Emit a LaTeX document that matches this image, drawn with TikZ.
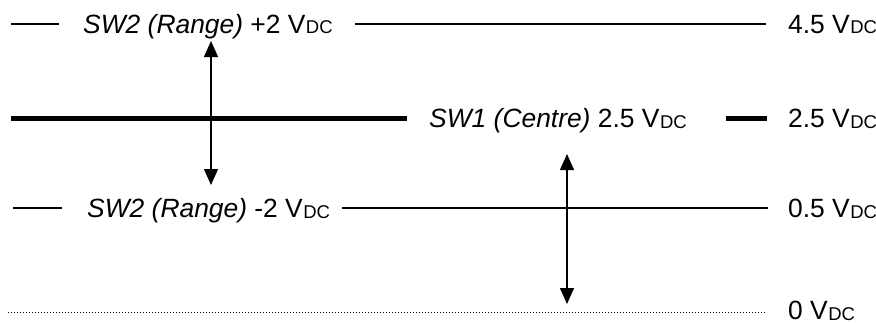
\documentclass[tikz,border=0pt]{standalone}
\usepackage{fontspec}
\setmainfont{Liberation Sans}
\usetikzlibrary{arrows.meta}
\newcommand{\vdc}{V\kern0.5pt\raisebox{-0.5pt}{\fontsize{18.5}{18.5}\selectfont DC}}
\tikzset{
  lbl/.style={anchor=base west, inner sep=0pt, font=\fontsize{26.4}{26.4}\selectfont},
  thin/.style={line width=1.3pt},
  thick line/.style={line width=5pt},
  dotline/.style={line width=1pt, dash pattern=on 1pt off 2pt},
  dblarrow/.style={line width=1.3pt, {Triangle[width=14pt,length=16pt]}-{Triangle[width=14pt,length=16pt]}}
}
\begin{document}
\begin{tikzpicture}[x=1pt,y=-1pt]
\useasboundingbox (0,0) rectangle (876,324);
% labels
\node[lbl] (t1) at (83,33.5) {\textit{SW2 (Range)} +2 \vdc};
\node[lbl] (t2) at (788,33.5) {4.5 \vdc};
\node[lbl] (c1) at (429,127.5) {\textit{SW1 (Centre)} 2.5 \vdc};
\node[lbl] (c2) at (788,127.5) {2.5 \vdc};
\node[lbl] (b1) at (87,217.5) {\textit{SW2 (Range)} -2 \vdc};
\node[lbl] (b2) at (788,217.5) {0.5 \vdc};
\node[lbl] (z2) at (788,319.5) {0 \vdc};
% line end points
\coordinate (ta) at (11,24);  \coordinate (tb) at (59,24);
\coordinate (tc) at (355,24); \coordinate (td) at (766,24);
\coordinate (ca) at (11,118); \coordinate (cb) at (407,118);
\coordinate (cc) at (726,118); \coordinate (cd) at (767,118);
\coordinate (ba) at (13,208); \coordinate (bb) at (62,208);
\coordinate (bc) at (342,208); \coordinate (bd) at (768,208);
\coordinate (za) at (8,312);  \coordinate (zb) at (765,312);
\coordinate (a1t) at (211,41); \coordinate (a1b) at (211,185);
\coordinate (a2t) at (567,154); \coordinate (a2b) at (567,304);
% lines
\draw[thin] (ta) -- (tb);
\draw[thin] (tc) -- (td);
\draw[thick line] (ca) -- (cb);
\draw[thick line] (cc) -- (cd);
\draw[thin] (ba) -- (bb);
\draw[thin] (bc) -- (bd);
\draw[dotline] (za) -- (zb);
% arrows
\draw[dblarrow] (a1t) -- (a1b);
\draw[dblarrow] (a2t) -- (a2b);
\end{tikzpicture}
\end{document}
